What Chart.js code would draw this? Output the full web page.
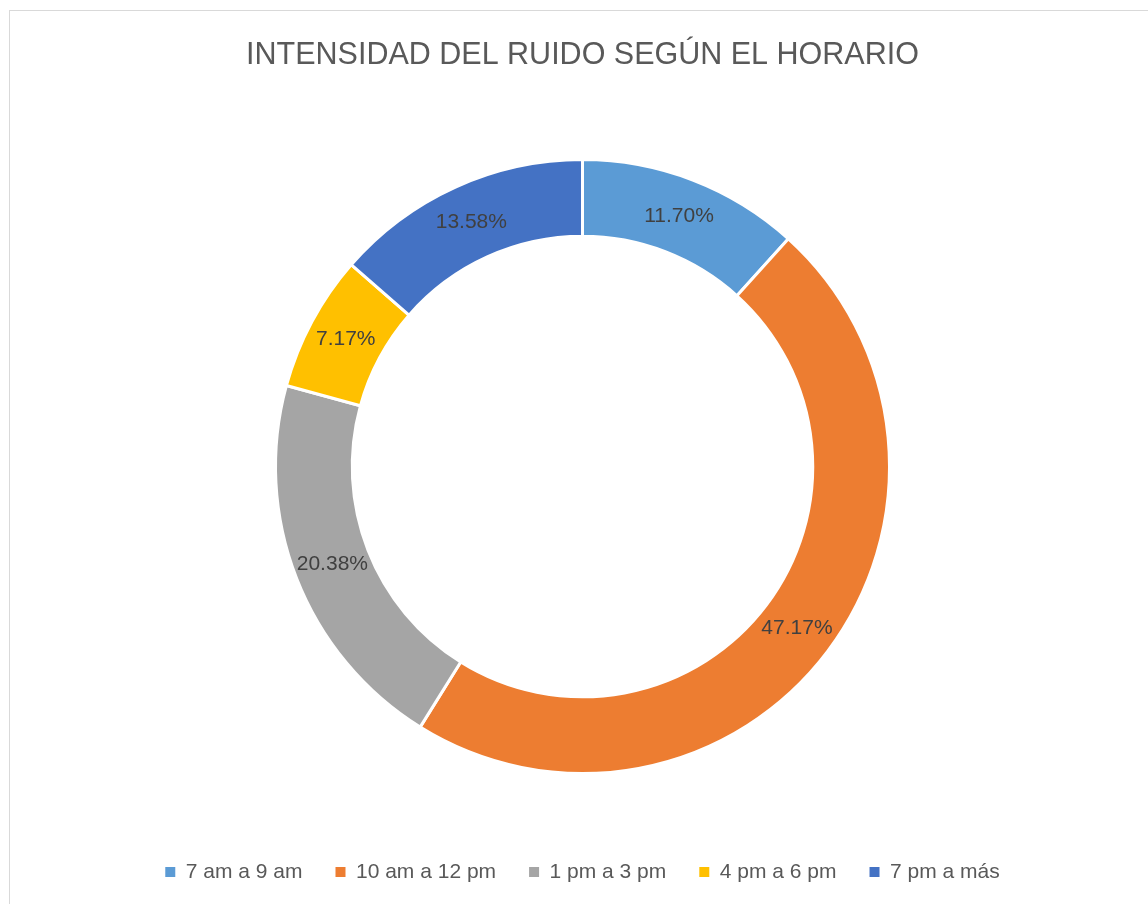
<!DOCTYPE html>
<html>
<head>
<meta charset="utf-8">
<script src="https://cdn.jsdelivr.net/npm/chart.js@4"></script>
<style>
  html,body{margin:0;padding:0;background:#fff;}
  #frame{
    position:absolute;
    left:9px;top:10px;
    width:1160px;height:920px;
    border:1px solid #d9d9d9;
    box-sizing:border-box;
  }
  #chart{position:absolute;left:0;top:0;}
</style>
</head>
<body>
<div id="frame"></div>
<canvas id="chart" width="1148" height="904"></canvas>
<script>

const chartTitle = "INTENSIDAD DEL RUIDO SEGÚN EL HORARIO";

const horarios = [
    "7 am a 9 am",
    "10 am a 12 pm",
    "1 pm a 3 pm",
    "4 pm a 6 pm",
    "7 pm a más"
];

const porcentajes = [11.70, 47.17, 20.38, 7.17, 13.58];

const colores = ["#5b9bd5", "#ed7d31", "#a5a5a5", "#ffc000", "#4472c4"];


// etiquetas de porcentaje sobre cada sector
const labelPlugin = {
    id: "percentLabels",
    afterDatasetsDraw(chart){
        const ctx = chart.ctx;
        const meta = chart.getDatasetMeta(0);
        ctx.save();
        ctx.font = "21px 'Liberation Sans', Arial, sans-serif";
        ctx.fillStyle = "#404040";
        ctx.textAlign = "center";
        ctx.textBaseline = "middle";
        meta.data.forEach((arc, i) => {
            const p = arc.tooltipPosition();
            ctx.fillText(porcentajes[i].toFixed(2) + "%", p.x, p.y);
        });
        ctx.restore();
    }
};


new Chart(
    document.getElementById("chart"),
    {
        type: "doughnut",
        data: {
            labels: horarios,
            datasets: [{
                data: porcentajes,
                backgroundColor: colores,
                borderColor: "#ffffff",
                borderWidth: 3,
                radius: 307,
                cutout: "75%"
            }]
        },
        options: {
            responsive: false,
            animation: false,
            layout: {
                padding: {top: 37, left: 17, right: 0, bottom: 11.5}
            },
            plugins: {
                title: {
                    display: true,
                    text: chartTitle,
                    color: "#595959",
                    font: {
                        family: "'Liberation Sans', Arial, sans-serif",
                        size: 30.5,
                        weight: "normal",
                        lineHeight: 1.2
                    },
                    padding: {top: 0, bottom: 31}
                },
                legend: {
                    position: "bottom",
                    labels: {
                        boxWidth: 10,
                        boxHeight: 10,
                        padding: 33,
                        color: "#595959",
                        font: {
                            family: "'Liberation Sans', Arial, sans-serif",
                            size: 21
                        },
                        generateLabels(chart){
                            const items = Chart.overrides.doughnut.plugins.legend.labels.generateLabels(chart);
                            return items.map(it => ({...it, lineWidth: 0, strokeStyle: it.fillStyle}));
                        }
                    }
                },
                tooltip: {enabled: false}
            }
        },
        plugins: [labelPlugin]
    }
);
</script>
</body>
</html>
